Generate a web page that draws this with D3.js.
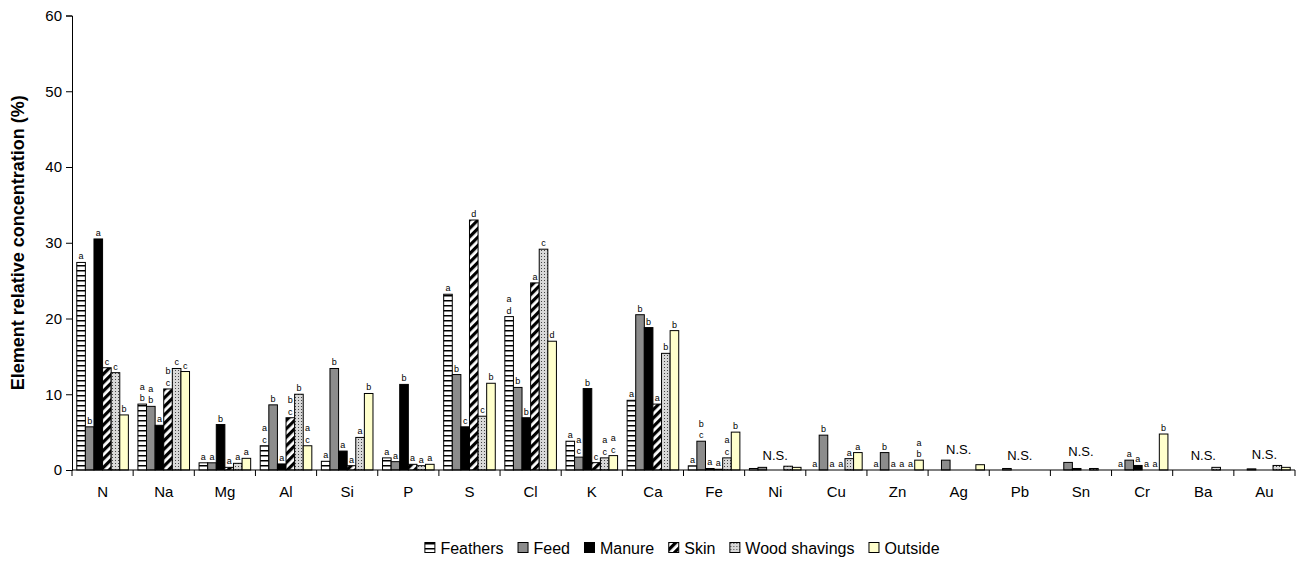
<!DOCTYPE html>
<html>
<head>
<meta charset="utf-8">
<script src="https://cdn.jsdelivr.net/npm/d3@7"></script>
<style>
  body { margin: 0; background: #fff; }
  svg text { font-family: "Liberation Sans", Arial, sans-serif; fill: #000; }
</style>
</head>
<body>
<script>
// element categories and series
var categories = ["N", "Na", "Mg", "Al", "Si", "P", "S", "Cl", "K", "Ca", "Fe", "Ni", "Cu", "Zn", "Ag", "Pb", "Sn", "Cr", "Ba", "Au"];
var seriesNames = ["Feathers", "Feed", "Manure", "Skin", "Wood shavings", "Outside"];

// values (%) per series, in category order
var feathers = [27.4, 8.7, 0.95, 3.2, 1.15, 1.6, 23.2, 20.25, 3.8, 9.2, 0.55, 0.2, 0, 0, 0, 0, 0, 0, 0, 0];
var feed     = [5.7, 8.4, 0.95, 8.6, 13.4, 1.1, 12.6, 10.9, 1.7, 20.5, 3.8, 0.35, 4.6, 2.3, 1.3, 0.2, 1.0, 1.3, 0, 0.15];
var manure   = [30.5, 5.9, 6.0, 0.8, 2.5, 11.3, 5.7, 6.9, 10.75, 18.8, 0.2, 0, 0, 0, 0, 0, 0.2, 0.6, 0, 0];
var skin     = [13.5, 10.7, 0.35, 6.9, 0.57, 0.75, 33.0, 24.7, 0.97, 8.7, 0.1, 0, 0, 0, 0, 0, 0, 0, 0, 0];
var wood     = [12.85, 13.4, 0.88, 10.0, 4.3, 0.57, 7.1, 29.15, 1.6, 15.4, 1.6, 0.5, 1.5, 0, 0, 0, 0.2, 0, 0.35, 0.6];
var outside  = [7.27, 13.0, 1.54, 3.2, 10.1, 0.75, 11.45, 17.0, 1.9, 18.4, 5.0, 0.35, 2.3, 1.3, 0.7, 0, 0, 4.75, 0, 0.35];

// significance letters ("|" = new line)
var feathersLetters = ["a", "a|b", "a", "a|c", "a", "a", "a", "a|d", "a", "a", "a", "", "a", "a", "", "", "", "a", "", ""];
var feedLetters     = ["b", "a|b", "a", "b", "b", "a", "b", "b", "a|c", "b", "b|c", "", "b", "b", "", "", "", "a", "", ""];
var manureLetters   = ["a", "a", "b", "a", "a", "b", "c", "b", "b", "b", "a", "", "a", "a", "", "", "", "a", "", ""];
var skinLetters     = ["c", "b|c", "a", "b|c", "a", "a", "d", "a", "c", "a", "a", "", "a", "a", "", "", "", "a", "", ""];
var woodLetters     = ["c", "c", "a", "b", "a", "a", "c", "c", "a|c", "b", "a|c", "", "a", "a", "", "", "", "a", "", ""];
var outsideLetters  = ["b", "c", "a", "a|c", "b", "a", "b", "d", "a|c", "b", "b", "", "a", "a|b", "", "", "", "b", "", ""];

// categories without significant differences
var notSignificant = ["Ni", "Ag", "Pb", "Sn", "Ba", "Au"];

var yTicks = [0, 10, 20, 30, 40, 50, 60];

window.onload = function() {

    const W = 1303, H = 563;
    const plot = {left: 72, right: 1295, top: 15.5, bottom: 470};

    var values = [feathers, feed, manure, skin, wood, outside];
    var letters = [feathersLetters, feedLetters, manureLetters, skinLetters, woodLetters, outsideLetters];
    var fills = ["url(#pFeathers)", "#8c8c8c", "#000", "url(#pSkin)", "url(#pWood)", "#ffffcc"];

    var svg = d3.select("body").append("svg")
        .attr("width", W)
        .attr("height", H);

    // patterns
    var defs = svg.append("defs");
    var p1 = defs.append("pattern").attr("id", "pFeathers")
        .attr("patternUnits", "userSpaceOnUse").attr("width", 10).attr("height", 5);
    p1.append("rect").attr("width", 10).attr("height", 5).attr("fill", "#fff");
    p1.append("rect").attr("width", 10).attr("height", 1.5).attr("fill", "#000");

    var p2 = defs.append("pattern").attr("id", "pSkin")
        .attr("patternUnits", "userSpaceOnUse").attr("width", 6).attr("height", 6)
        .attr("patternTransform", "rotate(45)");
    p2.append("rect").attr("width", 6).attr("height", 6).attr("fill", "#fff");
    p2.append("rect").attr("width", 3.2).attr("height", 6).attr("fill", "#000");

    var p3 = defs.append("pattern").attr("id", "pWood")
        .attr("patternUnits", "userSpaceOnUse").attr("width", 3).attr("height", 3);
    p3.append("rect").attr("width", 3).attr("height", 3).attr("fill", "#d8d8d8");
    p3.append("rect").attr("x", 1).attr("y", 1).attr("width", 1).attr("height", 1).attr("fill", "#444");

    var x = d3.scaleBand().domain(categories).range([plot.left, plot.right]).padding(0);
    var xs = d3.scaleBand().domain(d3.range(6)).range([0, x.bandwidth()])
        .paddingInner(0).paddingOuter(0.555);
    var y = d3.scaleLinear().domain([0, 60]).range([plot.bottom, plot.top]);

    // bars
    var groups = svg.append("g").selectAll("g")
        .data(seriesNames)
        .enter().append("g");

    groups.each(function(name, s) {
        d3.select(this).selectAll("rect")
            .data(categories.map(function(c, i) { return {c: c, v: values[s][i]}; })
                .filter(function(d) { return d.v > 0; }))
            .enter().append("rect")
            .attr("x", function(d) { return x(d.c) + xs(s); })
            .attr("y", function(d) { return y(d.v); })
            .attr("width", xs.bandwidth())
            .attr("height", function(d) { return y(0) - y(d.v); })
            .attr("fill", fills[s])
            .attr("stroke", "#000")
            .attr("stroke-width", 1);
    });

    // letters
    var lab = svg.append("g").attr("font-size", "9px").attr("text-anchor", "middle");
    categories.forEach(function(c, i) {
        for (var s = 0; s < 6; s++) {
            var str = letters[s][i];
            if (!str) continue;
            var lines = str.split("|");
            var cx = x(c) + xs(s) + xs.bandwidth() / 2;
            var base = y(values[s][i]) - 3;
            lines.forEach(function(t, k) {
                lab.append("text")
                    .attr("x", cx)
                    .attr("y", base - (lines.length - 1 - k) * 11.5)
                    .text(t);
            });
        }
    });

    // N.S. labels
    notSignificant.forEach(function(c) {
        var i = categories.indexOf(c);
        var m = d3.max(values, function(v) { return v[i]; });
        svg.append("text")
            .attr("x", x(c) + x.bandwidth() / 2)
            .attr("y", Math.min(y(m) - 6, 460))
            .attr("text-anchor", "middle")
            .attr("font-size", "13px")
            .text("N.S.");
    });

    // y axis
    var yAxis = svg.append("g")
        .attr("transform", "translate(" + plot.left + ",0)")
        .call(d3.axisLeft(y).tickValues(yTicks).tickSize(6).tickPadding(4));
    yAxis.selectAll("text").attr("font-size", "15px").attr("font-family", "Liberation Sans, Arial, sans-serif");
    yAxis.select(".domain").attr("stroke", "#000");

    // x axis
    var xAxis = svg.append("g")
        .attr("transform", "translate(0," + plot.bottom + ")");
    xAxis.append("line")
        .attr("x1", plot.left).attr("x2", plot.right)
        .attr("stroke", "#000");
    xAxis.selectAll(".tk")
        .data(categories.concat(["_end"]))
        .enter().append("line")
        .attr("x1", function(d, i) { return plot.left + i * x.step(); })
        .attr("x2", function(d, i) { return plot.left + i * x.step(); })
        .attr("y1", 0).attr("y2", 6)
        .attr("stroke", "#000");
    xAxis.selectAll("text")
        .data(categories)
        .enter().append("text")
        .attr("x", function(d) { return x(d) + x.bandwidth() / 2; })
        .attr("y", 27)
        .attr("text-anchor", "middle")
        .attr("font-size", "15px")
        .text(function(d) { return d; });

    // y title
    svg.append("text")
        .attr("transform", "translate(24," + (plot.top + plot.bottom) / 2 + ") rotate(-90)")
        .attr("text-anchor", "middle")
        .attr("font-size", "18px")
        .attr("font-weight", "bold")
        .text("Element relative concentration (%)");

    // legend
    var legend = svg.append("g").attr("font-size", "16px");
    var lx = 0;
    seriesNames.forEach(function(name, s) {
        var item = legend.append("g").attr("transform", "translate(" + lx + ",0)");
        item.append("rect")
            .attr("x", 0.5).attr("y", -5.5)
            .attr("width", 10).attr("height", 10)
            .attr("fill", fills[s])
            .attr("stroke", "#000");
        var t = item.append("text")
            .attr("x", 16).attr("y", 5.5)
            .text(name);
        lx += 16 + t.node().getComputedTextLength() + 14;
    });
    lx -= 14;
    legend.attr("transform", "translate(" + (682 - lx / 2) + ",548)");
};
</script>
</body>
</html>
